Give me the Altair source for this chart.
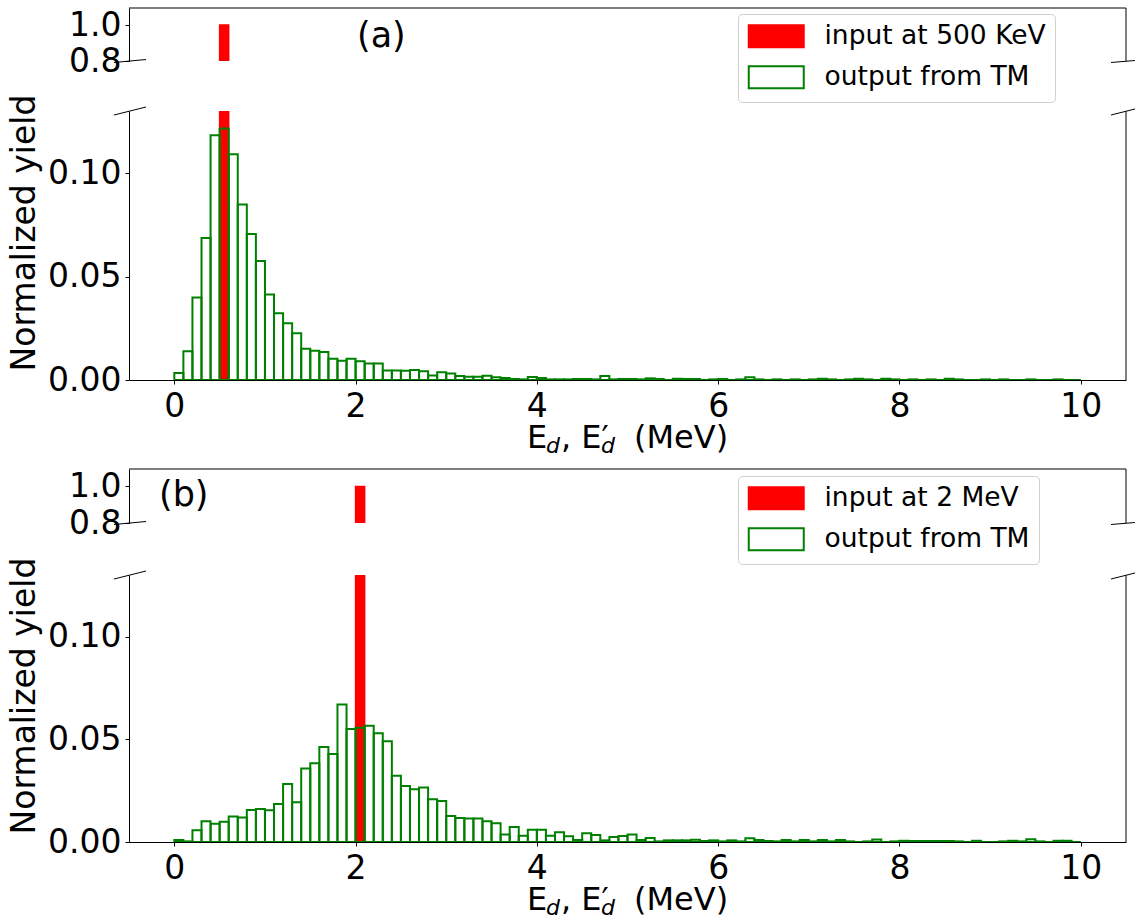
import altair as alt
import pandas as pd

# ---------------- data ----------------
BIN_LO = [round(0.1 * i, 1) for i in range(100)]
BIN_HI = [round(0.1 * (i + 1), 1) for i in range(100)]

OUT_A = [
    0.0034, 0.0139, 0.0399, 0.0686, 0.1183, 0.1215, 0.1091, 0.0848, 0.0705, 0.0575,
    0.0413, 0.0322, 0.0274, 0.0226, 0.0151, 0.0141, 0.0135, 0.0103, 0.0093, 0.0103,
    0.0091, 0.0080, 0.0080, 0.0046, 0.0046, 0.0045, 0.0048, 0.0042, 0.0022, 0.0038,
    0.0032, 0.0019, 0.0016, 0.0016, 0.0021, 0.0013, 0.0010, 0.0005, 0.0003, 0.0014,
    0.0010, 0.0003, 0.0003, 0.0003, 0.0005, 0.0005, 0.0003, 0.0019, 0.0003, 0.0005,
    0.0005, 0.0003, 0.0008, 0.0005, 0.0000, 0.0006, 0.0005, 0.0005, 0.0000, 0.0003,
    0.0005, 0.0000, 0.0003, 0.0013, 0.0003, 0.0000, 0.0003, 0.0000, 0.0003, 0.0000,
    0.0003, 0.0006, 0.0003, 0.0000, 0.0003, 0.0006, 0.0003, 0.0000, 0.0006, 0.0003,
    0.0000, 0.0003, 0.0000, 0.0003, 0.0000, 0.0006, 0.0003, 0.0000, 0.0000, 0.0003,
    0.0000, 0.0003, 0.0000, 0.0000, 0.0003, 0.0000, 0.0000, 0.0003, 0.0000, 0.0000,
]
OUT_B = [
    0.0010, 0.0003, 0.0057, 0.0101, 0.0089, 0.0098, 0.0124, 0.0119, 0.0156, 0.0161,
    0.0154, 0.0185, 0.0283, 0.0193, 0.0358, 0.0384, 0.0463, 0.0428, 0.0670, 0.0550,
    0.0556, 0.0566, 0.0530, 0.0491, 0.0322, 0.0273, 0.0257, 0.0265, 0.0208, 0.0200,
    0.0127, 0.0117, 0.0115, 0.0115, 0.0101, 0.0091, 0.0037, 0.0073, 0.0031, 0.0060,
    0.0060, 0.0031, 0.0047, 0.0028, 0.0010, 0.0042, 0.0034, 0.0008, 0.0024, 0.0029,
    0.0036, 0.0010, 0.0020, 0.0003, 0.0008, 0.0008, 0.0008, 0.0011, 0.0005, 0.0008,
    0.0003, 0.0008, 0.0003, 0.0018, 0.0010, 0.0005, 0.0003, 0.0010, 0.0003, 0.0010,
    0.0003, 0.0010, 0.0003, 0.0010, 0.0003, 0.0000, 0.0003, 0.0012, 0.0000, 0.0003,
    0.0006, 0.0005, 0.0005, 0.0005, 0.0005, 0.0005, 0.0003, 0.0000, 0.0006, 0.0000,
    0.0000, 0.0003, 0.0006, 0.0003, 0.0013, 0.0003, 0.0000, 0.0006, 0.0006, 0.0000,
]
IN_A = [0.0] * 5 + [1.0] + [0.0] * 94
IN_B = [0.0] * 20 + [1.0] + [0.0] * 79

LABELS_A = ["input at 500 KeV", "output from TM"]
LABELS_B = ["input at 2 MeV", "output from TM"]
TAG_A = "(a)"
TAG_B = "(b)"
Y_TITLE = "Normalized yield"
X_TITLE_PARTS = ["E", "d", ", E\u2032", "d", "(MeV)"]

X_TICKS = [0, 2, 4, 6, 8, 10]
Y_TICKS_TOP = [0.8, 1.0]
Y_TICKS_BOT = [0.0, 0.05, 0.10]
X_DOMAIN = [-0.5, 10.5]
Y_DOMAIN_TOP = [0.8, 1.095]
Y_DOMAIN_BOT = [0.0, 0.13]

# ---------------- style ----------------
FONT = "DejaVu Sans"
W = 997
TICK_FS = 33
SPINE = "black"


def one_row():
    return pd.DataFrame({"k": [0]})


def rule(x, x2, y, y2):
    return alt.Chart(one_row()).mark_rule(color=SPINE, strokeWidth=1).encode(
        x=alt.value(x), x2=alt.value(x2), y=alt.value(y), y2=alt.value(y2)
    )


def make_panel(out_vals, in_vals, labels, tag, tag_x, tag_y, leg_y, top_h, bot_h, gap):
    df = pd.DataFrame(
        {"lo": BIN_LO, "hi": BIN_HI, "out": out_vals, "inp": in_vals, "series": labels[0]}
    )
    spike = df[df["inp"] > 0]
    xs = alt.Scale(domain=X_DOMAIN, nice=False, zero=False)

    leg = alt.Legend(
        orient="none", legendX=609, legendY=leg_y, title=None,
        symbolType="M-2.5,-1H2.5V1H-2.5Z", symbolSize=484, symbolStrokeWidth=2,
        symbolOffset=16, symbolOpacity=1,
        labelFont=FONT, labelFontSize=26.5, labelColor="black",
        labelOffset=35, padding=9, rowPadding=10, labelLimit=500,
        fillColor="rgba(255,255,255,0.8)", strokeColor="#d0d0d0", cornerRadius=4,
    )

    # ---- top (broken) region ----
    ys_top = alt.Scale(domain=Y_DOMAIN_TOP, nice=False, zero=False)
    top_bar = alt.Chart(spike).mark_rect(clip=True, strokeWidth=1.5).encode(
        x=alt.X("lo:Q", scale=xs, axis=None),
        x2="hi:Q",
        y=alt.Y("inp:Q", scale=ys_top,
                axis=alt.Axis(values=Y_TICKS_TOP, format=".1f", title=None)),
        y2=alt.datum(0.0),
        fill=alt.Fill("series:N", scale=alt.Scale(domain=labels, range=["red", "transparent"]), legend=leg),
        stroke=alt.Stroke("series:N", scale=alt.Scale(domain=labels, range=["red", "green"]), legend=leg),
    )
    tag_text = alt.Chart(pd.DataFrame({"t": [tag]})).mark_text(
        align="left", baseline="alphabetic", fontSize=35, font=FONT, color="black"
    ).encode(x=alt.value(tag_x), y=alt.value(tag_y), text="t:N")

    top = alt.layer(
        top_bar,
        rule(0, W, 0, 0),
        rule(W, W, 0, top_h),
        rule(-15, 17, top_h + 1.5, top_h - 1.5),
        rule(W - 15, W + 9, top_h + 1.5, top_h - 0.5),
        tag_text,
    ).properties(width=W, height=top_h)

    # ---- lower region ----
    ys_bot = alt.Scale(domain=Y_DOMAIN_BOT, nice=False, zero=False)
    yax = alt.Axis(values=Y_TICKS_BOT, format=".2f", title=Y_TITLE,
                   titleY=bot_h / 2 - 13, titlePadding=6)
    xax = alt.Axis(values=X_TICKS, format="d", title=None, labelPadding=6)
    red = alt.Chart(df).mark_rect(clip=True, color="red", stroke="red", strokeWidth=1.5).encode(
        x=alt.X("lo:Q", scale=xs, axis=xax), x2="hi:Q",
        y=alt.Y("inp:Q", scale=ys_bot, axis=yax), y2=alt.datum(0.0),
    )
    green = alt.Chart(df).mark_rect(
        clip=True, fill="white", fillOpacity=0, stroke="green", strokeWidth=2
    ).encode(
        x=alt.X("lo:Q", scale=xs, axis=xax), x2="hi:Q",
        y=alt.Y("out:Q", scale=ys_bot, axis=yax), y2=alt.datum(0.0),
    )

    # x title built from pieces (subscripts)
    xpos = [398, 417, 432, 472, 505]
    sizes = [32, 22, 32, 22, 32]
    styles = ["normal", "italic", "normal", "italic", "normal"]
    dys = [0, 5, 0, 5, 0]
    title_layers = []
    for txt, xp, fs, st, dy in zip(X_TITLE_PARTS, xpos, sizes, styles, dys):
        title_layers.append(
            alt.Chart(pd.DataFrame({"t": [txt]})).mark_text(
                align="left", baseline="alphabetic", fontSize=fs, font=FONT,
                fontStyle=st, color="black"
            ).encode(x=alt.value(xp), y=alt.value(bot_h + 68 + dy), text="t:N")
        )

    bot = alt.layer(
        red, green,
        rule(W, W, 0, bot_h),
        rule(-15, 17, 4, -4),
        rule(W - 15, W + 9, 4, -2),
        *title_layers,
    ).properties(width=W, height=bot_h)

    return alt.vconcat(top, bot, spacing=gap, bounds="flush").resolve_scale(
        y="independent", fill="independent", stroke="independent"
    )


panel_a = make_panel(OUT_A, IN_A, LABELS_A, TAG_A, 228, 39, 6, 53, 269, 50)
panel_b = make_panel(OUT_B, IN_B, LABELS_B, TAG_B, 30, 37, 7, 54, 267, 52)

chart = alt.vconcat(panel_a, panel_b, spacing=10, bounds="full").resolve_scale(
    y="independent", fill="independent", stroke="independent"
).resolve_legend(
    fill="independent", stroke="independent"
).configure_axis(
    labelFont=FONT, labelFontSize=TICK_FS, labelColor="black",
    tickColor="black", domainColor="black", tickSize=4, labelPadding=4,
    tickWidth=1, domainWidth=1, grid=False,
    titleFont=FONT, titleFontSize=33, titleFontWeight="normal", titleColor="black",
).configure_view(stroke="transparent").properties(
    padding={"left": 8, "top": 7, "right": 0, "bottom": 0}
)

chart.save("out.html", embed_options={"renderer": "svg", "actions": False})
